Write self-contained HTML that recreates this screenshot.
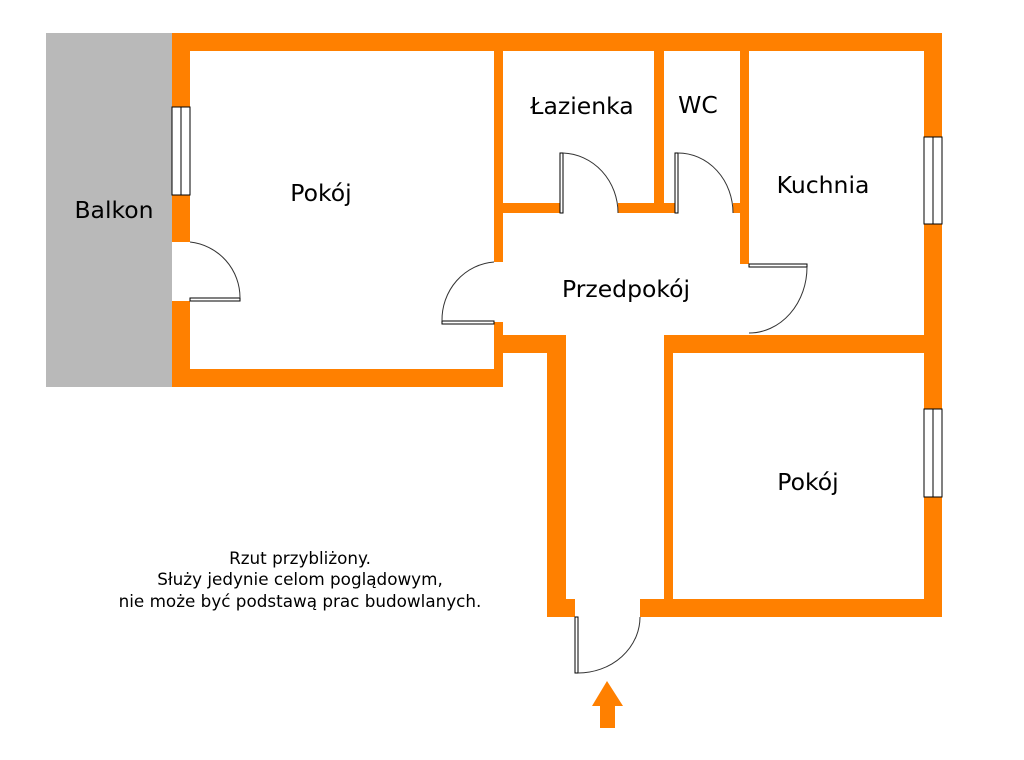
<!DOCTYPE html>
<html><head><meta charset="utf-8"><style>
html,body{margin:0;padding:0;background:#fff;width:1024px;height:760px;overflow:hidden}
svg{display:block}
.l{font-family:"DejaVu Sans","Liberation Sans",sans-serif;font-size:23.5px;fill:#000}
.n{font-family:"DejaVu Sans","Liberation Sans",sans-serif;font-size:16.8px;fill:#000}
</style></head><body>
<svg width="1024" height="760" viewBox="0 0 1024 760" xmlns="http://www.w3.org/2000/svg">
<rect x="46" y="33" width="126" height="354" fill="#b9b9b9"/>
<g fill="#ff8000">
<rect x="172" y="33" width="770" height="18"/>
<rect x="172" y="51" width="18" height="191"/>
<rect x="172" y="301" width="18" height="86"/>
<rect x="172" y="369" width="330" height="18"/>
<rect x="494" y="51" width="9" height="211"/>
<rect x="494" y="322" width="9" height="65"/>
<rect x="494" y="335" width="72" height="18"/>
<rect x="547" y="335" width="19" height="282"/>
<rect x="547" y="599" width="28" height="18"/>
<rect x="494" y="203" width="66" height="10"/>
<rect x="618" y="203" width="57" height="10"/>
<rect x="654" y="51" width="10" height="162"/>
<rect x="740" y="51" width="9" height="213"/>
<rect x="733" y="203" width="16" height="10"/>
<rect x="924" y="51" width="18" height="566"/>
<rect x="664" y="335" width="278" height="18"/>
<rect x="664" y="335" width="9" height="282"/>
<rect x="640" y="599" width="302" height="18"/>
<polygon points="607,681 623,706 615,706 615,728 600,728 600,706 592,706"/>
</g>
<g fill="#fff" stroke="#000" stroke-width="1">
<rect x="172" y="107" width="18" height="88"/><line x1="181" y1="107" x2="181" y2="195"/>
<rect x="924" y="137" width="18" height="87"/><line x1="933" y1="137" x2="933" y2="224"/>
<rect x="924" y="409" width="18" height="88"/><line x1="933" y1="409" x2="933" y2="497"/>
<rect x="190" y="298" width="50" height="3"/>
<rect x="442" y="321" width="52" height="3"/>
<rect x="560" y="153" width="3" height="60"/>
<rect x="675" y="153" width="3" height="60"/>
<rect x="749" y="264" width="58" height="3"/>
<rect x="575" y="617" width="3" height="56"/>
</g>
<g fill="none" stroke="#333" stroke-width="1">
<path d="M190,242 A56,56 0 0 1 240,298"/>
<path d="M494,262 A56,58 0 0 0 442,321"/>
<path d="M563,153 A57,60 0 0 1 618,213"/>
<path d="M678,153 A55,60 0 0 1 733,213"/>
<path d="M807,267 A58,66 0 0 1 749,333"/>
<path d="M578,673 A62,56 0 0 0 640,617"/>
</g>
<text class="l" x="114" y="218" text-anchor="middle">Balkon</text>
<text class="l" x="321" y="201" text-anchor="middle">Pokój</text>
<text class="l" x="582" y="114" text-anchor="middle">Łazienka</text>
<text class="l" x="698" y="113" text-anchor="middle">WC</text>
<text class="l" x="823" y="193" text-anchor="middle">Kuchnia</text>
<text class="l" x="626" y="297" text-anchor="middle">Przedpokój</text>
<text class="l" x="808" y="490" text-anchor="middle">Pokój</text>
<text class="n" x="300" y="564" text-anchor="middle">Rzut przybliżony.</text>
<text class="n" x="300" y="585" text-anchor="middle">Służy jedynie celom poglądowym,</text>
<text class="n" x="300" y="607" text-anchor="middle">nie może być podstawą prac budowlanych.</text>
</svg>
</body></html>
